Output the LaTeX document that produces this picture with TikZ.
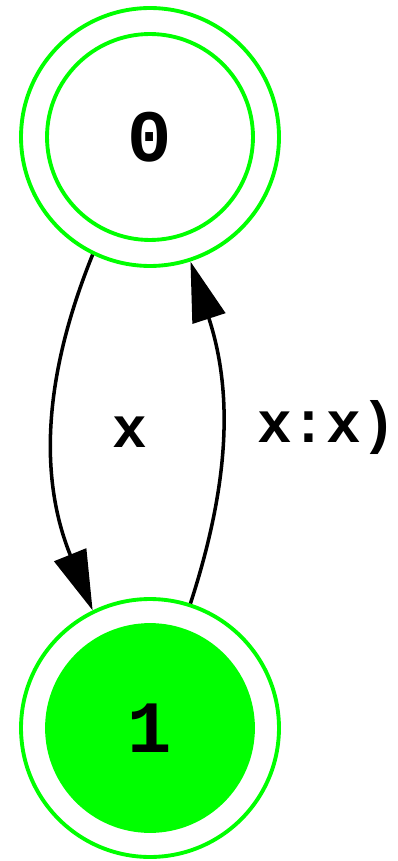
\documentclass[tikz,border=0pt]{standalone}
\usepackage{fontspec}
\setmonofont{Liberation Mono}
\definecolor{stategreen}{HTML}{00FF00}
\usetikzlibrary{arrows.meta}

\begin{document}
\begin{tikzpicture}[x=0.02cm,y=-0.02cm,
  ring/.style={circle,draw=stategreen,line width=2.2pt,inner sep=0pt,minimum size=5.16cm},
  core/.style={circle,draw=stategreen,line width=2.2pt,inner sep=0pt,minimum size=4.12cm,
    font=\ttfamily\bfseries\fontsize{42}{48}\selectfont},
  trans/.style={line width=2pt,-{Triangle[length=1.2cm,width=0.68cm]}},
  lbl/.style={font=\ttfamily\bfseries\fontsize{33}{38}\selectfont}]
  \useasboundingbox (0,0) rectangle (397,861);
  \node[ring] (r0) at (150,137) {};
  \node[core] (s0) at (150,137) {0};
  \node[ring] (r1) at (150,728) {};
  \node[core,fill=stategreen] (s1) at (150,728) {1};
  \draw[trans] (r0.244) to[out=-112,in=112] (r1.116);
  \draw[trans] (r1.72) to[out=72,in=-72] (r0.-72);
  \node[lbl] (lx) at (130,432) {x};
  \node[lbl,anchor=west] (lxx) at (251,428) {x:x)};
\end{tikzpicture}
\end{document}
